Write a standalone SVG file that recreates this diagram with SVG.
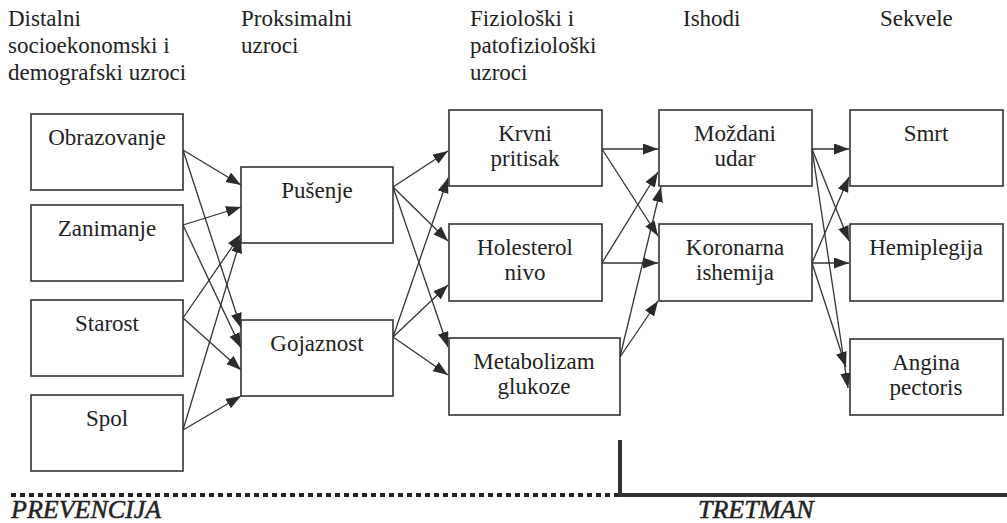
<svg xmlns="http://www.w3.org/2000/svg" width="1007" height="523" viewBox="0 0 1007 523">
<defs>
<marker id="ah" markerUnits="userSpaceOnUse" markerWidth="16" markerHeight="12" refX="15" refY="5.5" orient="auto">
<path d="M0,0 L15,5.5 L0,11 z" fill="#2b2b2b"/>
</marker>
</defs>
<rect width="1007" height="523" fill="#fff"/>

<g id="headers" font-size="23" fill="#222">
<text x="8" y="26" font-family="Liberation Serif">Distalni</text>
<text x="8" y="53" font-family="Liberation Serif">socioekonomski i</text>
<text x="8" y="80" font-family="Liberation Serif">demografski uzroci</text>
<text x="241" y="26" font-family="Liberation Serif">Proksimalni</text>
<text x="241" y="53" font-family="Liberation Serif">uzroci</text>
<text x="470" y="26" font-family="Liberation Serif">Fiziolo&#353;ki i</text>
<text x="470" y="53" font-family="Liberation Serif">patofiziolo&#353;ki</text>
<text x="470" y="80" font-family="Liberation Serif">uzroci</text>
<text x="683" y="26" font-family="Liberation Serif">Ishodi</text>
<text x="880" y="26" font-family="Liberation Serif">Sekvele</text>
</g>

<g id="connectors" stroke="#333" stroke-width="1.3" fill="none" marker-end="url(#ah)">
<line x1="183" y1="150" x2="241" y2="185"/>
<line x1="183" y1="150" x2="241" y2="328"/>
<line x1="183" y1="225" x2="241" y2="207"/>
<line x1="183" y1="225" x2="241" y2="348"/>
<line x1="183" y1="318" x2="241" y2="234"/>
<line x1="183" y1="318" x2="241" y2="370"/>
<line x1="183" y1="430" x2="241" y2="238"/>
<line x1="183" y1="430" x2="241" y2="396"/>

<line x1="393" y1="187" x2="448" y2="151"/>
<line x1="393" y1="187" x2="448" y2="241"/>
<line x1="393" y1="187" x2="448" y2="347"/>
<line x1="393" y1="337" x2="448" y2="178"/>
<line x1="393" y1="337" x2="448" y2="285"/>
<line x1="393" y1="337" x2="448" y2="375"/>

<line x1="602" y1="149" x2="658" y2="149"/>
<line x1="602" y1="149" x2="658" y2="236"/>
<line x1="602" y1="263" x2="658" y2="172"/>
<line x1="602" y1="263" x2="658" y2="263"/>
<line x1="620" y1="357" x2="661" y2="187"/>
<line x1="620" y1="357" x2="658" y2="301"/>

<line x1="812" y1="149" x2="849" y2="149"/>
<line x1="812" y1="149" x2="849" y2="241"/>
<line x1="812" y1="149" x2="848" y2="388"/>
<line x1="812" y1="263" x2="849" y2="177"/>
<line x1="812" y1="263" x2="849" y2="263"/>
<line x1="812" y1="263" x2="846" y2="367"/>
</g>

<g id="boxes" stroke="#333" stroke-width="1.6" fill="#fff">
<rect id="obrazovanje" x="31" y="114" width="152" height="76"/>
<rect id="zanimanje" x="31" y="205" width="152" height="76"/>
<rect id="starost" x="31" y="300" width="152" height="76"/>
<rect id="spol" x="31" y="395" width="152" height="76"/>
<rect id="pusenje" x="241" y="167" width="152" height="76"/>
<rect id="gojaznost" x="241" y="320" width="152" height="76"/>
<rect id="krvni" x="449" y="110" width="153" height="76"/>
<rect id="holesterol" x="449" y="224" width="153" height="77"/>
<rect id="metabolizam" x="449" y="338" width="171" height="77"/>
<rect id="mozdani" x="659" y="110" width="153" height="76"/>
<rect id="koronarna" x="659" y="224" width="153" height="77"/>
<rect id="smrt" x="850" y="110" width="153" height="76"/>
<rect id="hemiplegija" x="850" y="224" width="153" height="77"/>
<rect id="angina" x="850" y="339" width="153" height="76"/>
</g>

<g id="labels" font-size="23" fill="#222" text-anchor="middle">
<text x="107" y="145" font-family="Liberation Serif">Obrazovanje</text>
<text x="107" y="236" font-family="Liberation Serif">Zanimanje</text>
<text x="107" y="331" font-family="Liberation Serif">Starost</text>
<text x="107" y="426" font-family="Liberation Serif">Spol</text>
<text x="317" y="198" font-family="Liberation Serif">Pu&#353;enje</text>
<text x="317" y="351" font-family="Liberation Serif">Gojaznost</text>
<text x="525" y="141" font-family="Liberation Serif">Krvni</text>
<text x="525" y="166" font-family="Liberation Serif">pritisak</text>
<text x="525" y="255" font-family="Liberation Serif">Holesterol</text>
<text x="525" y="280" font-family="Liberation Serif">nivo</text>
<text x="534" y="369" font-family="Liberation Serif">Metabolizam</text>
<text x="534" y="394" font-family="Liberation Serif">glukoze</text>
<text x="735" y="141" font-family="Liberation Serif">Mo&#382;dani</text>
<text x="735" y="166" font-family="Liberation Serif">udar</text>
<text x="735" y="255" font-family="Liberation Serif">Koronarna</text>
<text x="735" y="280" font-family="Liberation Serif">ishemija</text>
<text x="926" y="141" font-family="Liberation Serif">Smrt</text>
<text x="926" y="255" font-family="Liberation Serif">Hemiplegija</text>
<text x="926" y="370" font-family="Liberation Serif">Angina</text>
<text x="926" y="395" font-family="Liberation Serif">pectoris</text>
</g>

<g id="phases">
<line x1="11" y1="495" x2="618" y2="495" stroke="#222" stroke-width="4" stroke-dasharray="5 4"/>
<path d="M620,440 V495 H1007" fill="none" stroke="#333" stroke-width="4"/>
<g font-size="26" font-style="italic" fill="#222" stroke="#222" stroke-width="0.5">
<text x="11" y="518" font-family="Liberation Serif">PREVENCIJA</text>
<text x="698" y="518" font-family="Liberation Serif">TRETMAN</text>
</g>
</g>
</svg>
